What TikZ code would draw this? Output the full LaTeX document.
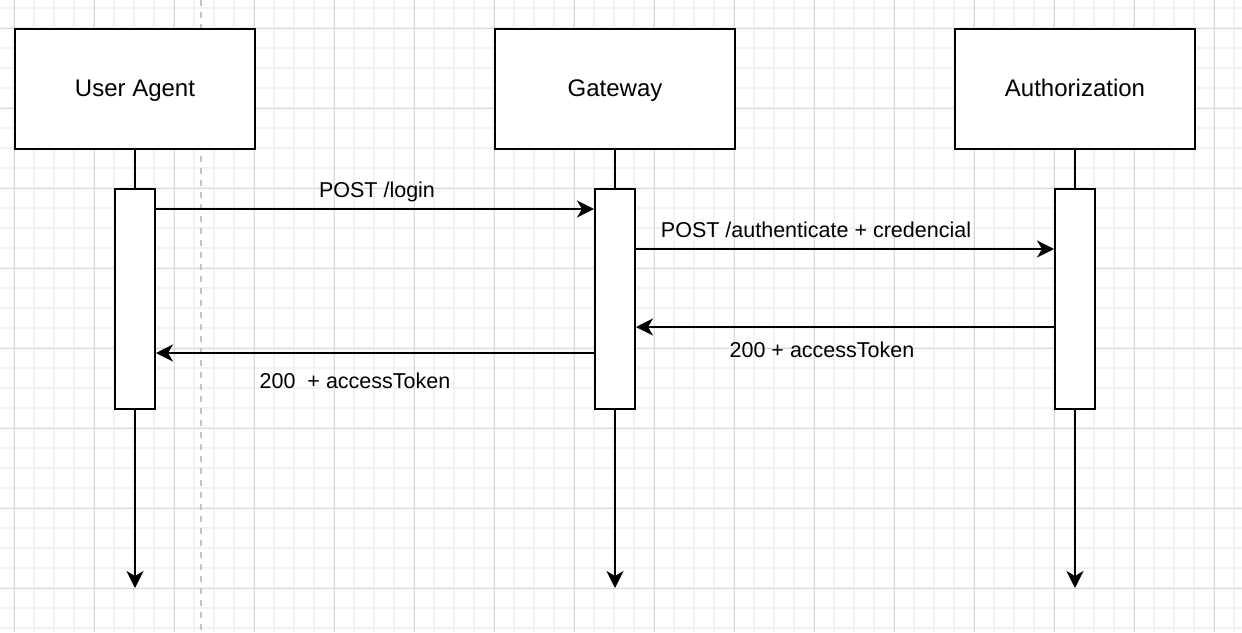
\documentclass[tikz,border=0pt]{standalone}
\usepackage{fontspec}
\setmainfont{Liberation Sans}
\usetikzlibrary{arrows.meta}

\definecolor{minorgrid}{HTML}{F2F2F2}
\definecolor{majorgrid}{HTML}{D8D8D8}
\definecolor{guide}{HTML}{C4C4C4}

\begin{document}
\begin{tikzpicture}[x=1pt, y=-1pt,
        actor/.style={draw, line width=2pt, fill=white, minimum width=240pt, minimum height=120pt, inner sep=0pt, text height=17pt, text depth=3pt, font=\fontsize{24}{28}\selectfont},
        bar/.style={draw, line width=2pt, fill=white, minimum width=40pt, minimum height=220pt, inner sep=0pt},
        msg/.style={line width=2pt, -{Stealth[length=17pt, width=17pt, inset=5pt]}},
        lbl/.style={anchor=base, inner sep=0pt, font=\fontsize{21.5}{25}\selectfont}]
        \useasboundingbox (0,0) rectangle (1242,632);
        \fill[white] (0,0) rectangle (1242,632);

        \foreach \x in {14,34,...,1234} \draw[minorgrid, line width=1.2pt] (\x,0) -- (\x,632);
        \foreach \y in {8,28,...,628} \draw[minorgrid, line width=1.2pt] (0,\y) -- (1242,\y);
        \foreach \x in {14,94,...,1234} \draw[majorgrid, line width=1pt] (\x,0) -- (\x,632);
        \foreach \y in {28,108,...,628} \draw[majorgrid, line width=1pt] (0,\y) -- (1242,\y);
        \draw[guide, line width=2pt, dash pattern=on 6pt off 6pt] (200.5,0) -- (200.5,632);

        \foreach \n/\x/\t in {ua/135/User Agent, gw/615/Gateway, auth/1075/Authorization} {
            \coordinate (\n end) at (\x,588);
            \draw[msg] (\x,150) -- (\n end);
            \node[actor] (\n) at (\x,89) {\t};
            \node[bar] (\n bar) at (\x,299) {};
        }

        \draw[msg] (uabar.east |- 0,209) -- (gwbar.west |- 0,209);
        \node[lbl] (login) at (377,197) {POST /login};
        \draw[msg] (gwbar.east |- 0,249) -- (authbar.west |- 0,249);
        \node[lbl] (authn) at (816,237) {POST /authenticate + credencial};
        \draw[msg] (authbar.west |- 0,327) -- (gwbar.east |- 0,327);
        \node[lbl] (tokgw) at (822,357) {200 + accessToken};
        \draw[msg] (gwbar.west |- 0,353) -- (uabar.east |- 0,353);
        \node[lbl] (tokua) at (355,388) {200\ \ + accessToken};
\end{tikzpicture}
\end{document}
